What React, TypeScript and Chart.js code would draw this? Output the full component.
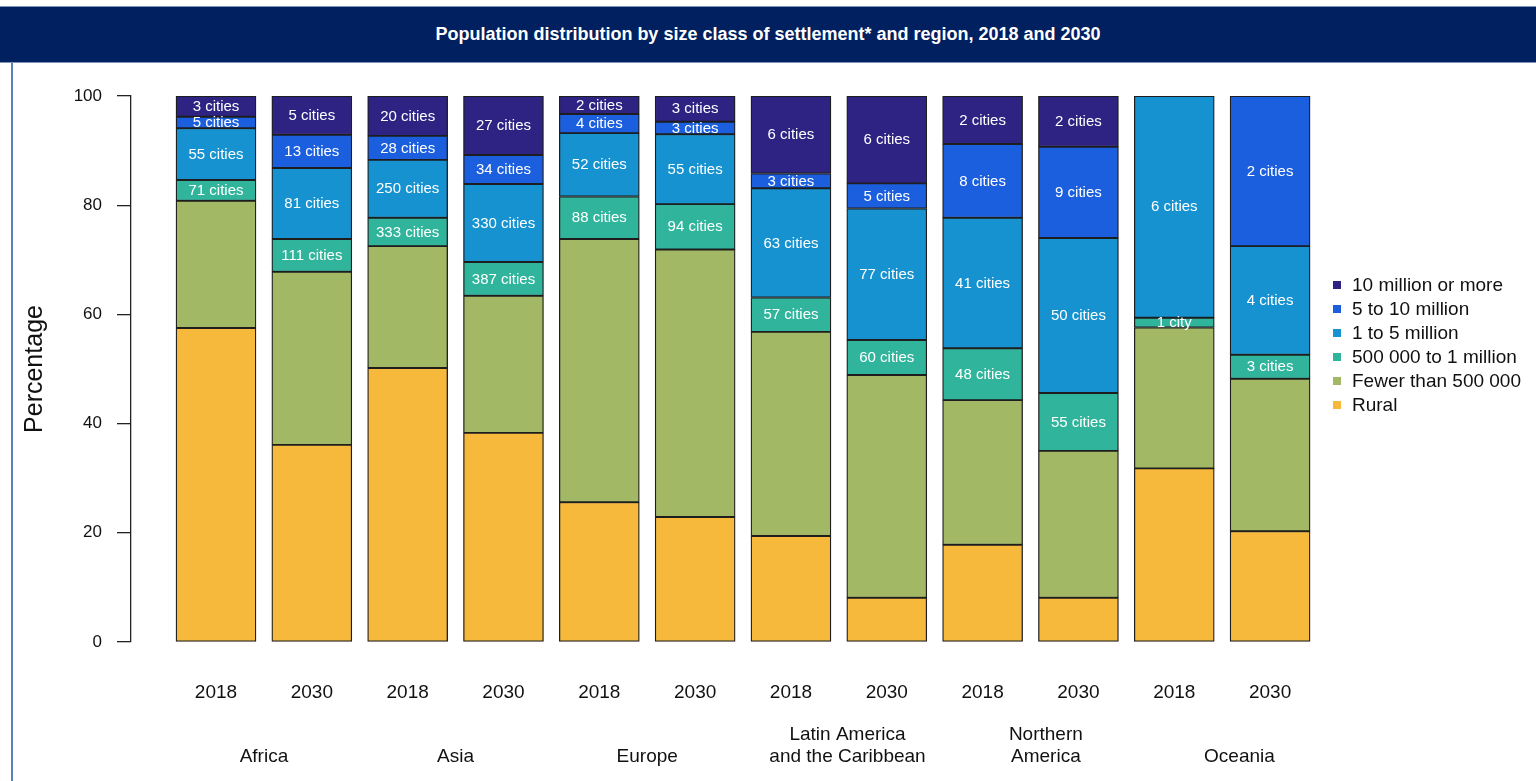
import React, { useEffect, useRef } from 'react';
import { Chart, registerables } from 'chart.js';

Chart.register(...registerables);

const FONT = "'Liberation Sans', Arial, Helvetica, sans-serif";

// One entry per bar (region x year)
const barIndex = [0, 1, 2, 3, 4, 5, 6, 7, 8, 9, 10, 11];
const barYears = ['2018', '2030', '2018', '2030', '2018', '2030', '2018', '2030', '2018', '2030', '2018', '2030'];
// Region label positions along the bar index axis
const regionPositions = [0.5, 2.5, 4.5, 6.59, 8.66, 10.68];
const regionLabels = [
  ['', 'Africa'],
  ['', 'Asia'],
  ['', 'Europe'],
  ['Latin America', 'and the Caribbean'],
  ['Northern', 'America'],
  ['', 'Oceania'],
];
const yTicks = [0, 20, 40, 60, 80, 100];

const seriesNames = [
  'Rural',
  'Fewer than 500 000',
  '500 000 to 1 million',
  '1 to 5 million',
  '5 to 10 million',
  '10 million or more',
];
const seriesColors = ['#f6b93c', '#a3b865', '#30b59c', '#1592cf', '#1b5fdf', '#2e2383'];

// Percentages
const rural = [57.5, 36.1, 50.2, 38.3, 25.6, 22.9, 19.4, 8.1, 17.8, 8.1, 31.8, 20.3];
const fewerThanHalfMillion = [23.3, 31.7, 22.3, 25.1, 48.2, 49.0, 37.4, 40.8, 26.5, 26.9, 25.8, 27.9];
const halfToOneMillion = [3.8, 6.0, 5.2, 6.2, 7.8, 8.3, 6.3, 6.4, 9.5, 10.6, 1.8, 4.4];
const oneToFiveMillion = [9.5, 13.0, 10.6, 14.3, 11.6, 12.8, 20.0, 24.1, 23.9, 28.4, 40.6, 19.9];
const fiveToTenMillion = [2.1, 6.1, 4.4, 5.3, 3.5, 2.3, 2.7, 4.6, 13.5, 16.7, 0, 27.5];
const tenMillionPlus = [3.8, 7.1, 7.3, 10.8, 3.3, 4.7, 14.2, 16.0, 8.8, 9.3, 0, 0];

// Number of cities in each class
const citiesHalfToOne = [71, 111, 333, 387, 88, 94, 57, 60, 48, 55, 1, 3];
const citiesOneToFive = [55, 81, 250, 330, 52, 55, 63, 77, 41, 50, 6, 4];
const citiesFiveToTen = [5, 13, 28, 34, 4, 3, 3, 5, 8, 9, null, 2];
const citiesTenPlus = [3, 5, 20, 27, 2, 3, 6, 6, 2, 2, null, null];

const seriesValues = [rural, fewerThanHalfMillion, halfToOneMillion, oneToFiveMillion, fiveToTenMillion, tenMillionPlus];
const seriesCities = [null, null, citiesHalfToOne, citiesOneToFive, citiesFiveToTen, citiesTenPlus];

const cityLabelPlugin = {
  id: 'cityLabels',
  afterDatasetsDraw(chart: any) {
    const ctx = chart.ctx;
    ctx.save();
    ctx.fillStyle = '#ffffff';
    ctx.font = `15px ${FONT}`;
    ctx.textAlign = 'center';
    ctx.textBaseline = 'middle';
    chart.data.datasets.forEach((ds: any, di: number) => {
      const counts = ds.cityCounts;
      if (!counts) return;
      const meta = chart.getDatasetMeta(di);
      meta.data.forEach((el: any, i: number) => {
        const n = counts[i];
        if (n == null) return;
        const { x, y, base } = el.getProps(['x', 'y', 'base'], true);
        ctx.fillText(n === 1 ? '1 city' : `${n} cities`, x, (y + base) / 2 + 0.5);
      });
    });
    ctx.restore();
  },
};

export default function App() {
  const canvasRef = useRef<HTMLCanvasElement | null>(null);

  useEffect(() => {
    document.body.style.margin = '0';
    const canvas = canvasRef.current;
    if (!canvas) return;
    Chart.defaults.font.family = FONT;

    const datasets = seriesValues.map((vals, si) => ({
      label: seriesNames[si],
      data: vals.map((v, i) => ({ x: barIndex[i], y: v === 0 ? null : v })),
      backgroundColor: seriesColors[si],
      borderColor: '#1e1e1e',
      borderWidth: 1.3,
      borderSkipped: false,
      barThickness: 80,
      cityCounts: seriesCities[si],
    }));

    const chart = new Chart(canvas, {
      type: 'bar',
      data: { datasets: datasets as any },
      plugins: [cityLabelPlugin],
      options: {
        animation: false,
        responsive: false,
        maintainAspectRatio: false,
        layout: { padding: { top: 33, right: 218, bottom: 13, left: 0 } },
        plugins: {
          legend: { display: false },
          tooltip: { enabled: false },
          title: { display: false },
        },
        scales: {
          x: {
            type: 'linear',
            position: 'bottom',
            weight: 0,
            offset: false,
            min: -0.887,
            max: 11.5,
            stacked: true,
            grid: { display: false, drawTicks: false, offset: false },
            border: { display: false },
            afterBuildTicks: (scale: any) => {
              scale.ticks = barIndex.map((v) => ({ value: v }));
            },
            afterFit: (scale: any) => {
              scale.height = 62;
            },
            ticks: {
              autoSkip: false,
              maxRotation: 0,
              padding: 39,
              color: '#111111',
              font: { size: 19, lineHeight: 1.2 },
              callback: (_v: any, i: number) => barYears[i],
            },
          },
          x2: {
            type: 'linear',
            axis: 'x',
            position: 'bottom',
            weight: 1,
            offset: false,
            min: -0.887,
            max: 11.5,
            grid: { display: false, drawTicks: false, offset: false },
            border: { display: false },
            afterBuildTicks: (scale: any) => {
              scale.ticks = regionPositions.map((v) => ({ value: v }));
            },
            afterFit: (scale: any) => {
              scale.height = 64;
            },
            ticks: {
              autoSkip: false,
              maxRotation: 0,
              padding: 20,
              color: '#111111',
              font: { size: 19, lineHeight: 1.16 },
              callback: (_v: any, i: number) => regionLabels[i],
            },
          },
          y: {
            type: 'linear',
            min: 0,
            max: 100,
            stacked: true,
            afterBuildTicks: (scale: any) => {
              scale.ticks = yTicks.map((v) => ({ value: v }));
            },
            afterFit: (scale: any) => {
              scale.width = 131;
            },
            grid: {
              display: true,
              drawOnChartArea: false,
              drawTicks: true,
              tickLength: 14,
              color: '#222222',
              lineWidth: 1.3,
            },
            border: { display: true, color: '#222222', width: 1.3 },
            ticks: {
              padding: 15,
              color: '#111111',
              font: { size: 17 },
            },
            title: {
              display: true,
              text: 'Percentage',
              color: '#111111',
              font: { size: 25 },
              padding: { top: 20, bottom: 0 },
            },
          },
        },
      },
    });

    return () => {
      chart.destroy();
    };
  }, []);

  const legendItems = seriesNames.map((n, i) => ({ name: n, color: seriesColors[i] })).reverse();

  return (
    <div
      style={{
        position: 'relative',
        width: 1536,
        height: 781,
        background: '#ffffff',
        overflow: 'hidden',
        fontFamily: FONT,
      }}
    >
      <div
        style={{
          position: 'absolute',
          left: 0,
          top: 6,
          width: 1536,
          height: 55,
          background: '#002060',
          borderTop: '1px solid #8094b8',
          borderBottom: '1px solid #8094b8',
          color: '#ffffff',
          fontWeight: 'bold',
          fontSize: 18,
          lineHeight: '55px',
          textAlign: 'center',
        }}
      >
        Population distribution by size class of settlement* and region, 2018 and 2030
      </div>
      <div
        style={{
          position: 'absolute',
          left: 11,
          top: 63,
          width: 2,
          height: 718,
          background: '#5a82b4',
        }}
      />
      <canvas
        ref={canvasRef}
        width={1536}
        height={718}
        style={{ position: 'absolute', left: 0, top: 63, width: 1536, height: 718 }}
      />
      <div style={{ position: 'absolute', left: 1333, top: 273 }}>
        {legendItems.map((it) => (
          <div
            key={it.name}
            style={{ height: 24, display: 'flex', alignItems: 'center', fontSize: 19, color: '#111111' }}
          >
            <span
              style={{
                display: 'inline-block',
                width: 8,
                height: 8,
                background: it.color,
                marginRight: 11,
              }}
            />
            <span style={{ whiteSpace: 'nowrap' }}>{it.name}</span>
          </div>
        ))}
      </div>
    </div>
  );
}
